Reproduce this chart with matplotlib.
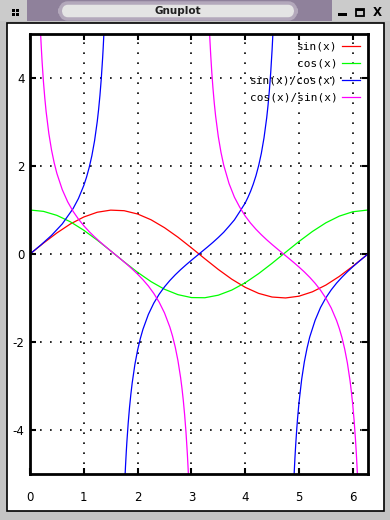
"""Gnuplot x11 window: sin, cos, tan and cot over [0, 2*pi]."""
import numpy as np
import matplotlib
matplotlib.use("Agg")
import matplotlib.pyplot as plt
from matplotlib.patches import Rectangle, FancyBboxPatch

plt.rcParams["axes.unicode_minus"] = False

# ---- data -------------------------------------------------------------
x_trig = [0.0, 0.25, 0.5, 0.75, 1.0, 1.25, 1.5, 1.75, 2.0, 2.25, 2.5, 2.75,
          3.0, 3.25, 3.5, 3.75, 4.0, 4.25, 4.5, 4.75, 5.0, 5.25, 5.5, 5.75,
          6.0, 6.283]
sin_vals = [0.0, 0.247, 0.479, 0.682, 0.841, 0.949, 0.997, 0.984, 0.909,
            0.778, 0.598, 0.382, 0.141, -0.108, -0.351, -0.572, -0.757,
            -0.895, -0.978, -0.999, -0.959, -0.859, -0.706, -0.509, -0.279,
            0.0]
cos_vals = [1.0, 0.969, 0.878, 0.732, 0.540, 0.315, 0.071, -0.178, -0.416,
            -0.628, -0.801, -0.924, -0.990, -0.994, -0.936, -0.820, -0.654,
            -0.446, -0.211, 0.038, 0.284, 0.512, 0.709, 0.861, 0.960, 1.0]

# sin(x)/cos(x): three branches, NaN breaks the line at the poles
tan_x = [0.0, 0.2, 0.4, 0.6, 0.8, 0.9, 1.0, 1.05, 1.1, 1.15, 1.2, 1.25,
         1.275, 1.3, 1.325, 1.35, 1.36, 1.375,
         np.nan,
         1.76, 1.775, 1.79, 1.80, 1.825, 1.85, 1.875, 1.9, 1.95, 2.0, 2.05,
         2.1, 2.2, 2.3, 2.4, 2.5, 2.6, 2.7, 2.8, 2.9, 3.0, 3.1, 3.2, 3.3,
         3.4, 3.5, 3.6, 3.7, 3.8, 3.9, 4.0, 4.05, 4.1, 4.15, 4.2, 4.25, 4.3,
         4.35, 4.4, 4.425, 4.45, 4.475, 4.5, 4.515, 4.53,
         np.nan,
         4.9, 4.91, 4.925, 4.94, 4.96, 4.975, 5.0, 5.05, 5.1, 5.15, 5.2, 5.3,
         5.4, 5.5, 5.6, 5.7, 5.8, 5.9, 6.0, 6.1, 6.2, 6.283]
tan_vals = [0.0, 0.203, 0.423, 0.684, 1.030, 1.260, 1.557, 1.743, 1.965,
            2.234, 2.572, 3.010, 3.282, 3.602, 3.985, 4.455, 4.673, 5.043,
            np.nan,
            -5.222, -4.829, -4.488, -4.286, -3.849, -3.488, -3.186, -2.927,
            -2.509, -2.185, -1.925, -1.710, -1.374, -1.119, -0.916, -0.747,
            -0.602, -0.473, -0.356, -0.247, -0.143, -0.042, 0.059, 0.160,
            0.264, 0.375, 0.493, 0.632, 0.776, 0.965, 1.158, 1.284, 1.424,
            1.588, 1.778, 2.007, 2.286, 2.641, 3.096, 3.383, 3.723, 4.132,
            4.637, 5.0, 5.42,
            np.nan,
            -5.268, -4.995, -4.632, -4.318, -3.956, -3.720, -3.381, -2.848,
            -2.449, -2.139, -1.886, -1.507, -1.216, -0.995, -0.814, -0.660,
            -0.526, -0.403, -0.291, -0.185, -0.083, 0.0]

# cos(x)/sin(x): two branches
cot_x = [0.19, 0.2, 0.21, 0.225, 0.25, 0.275, 0.3, 0.35, 0.4, 0.45, 0.5, 0.6,
         0.7, 0.8, 0.9, 1.0, 1.1, 1.2, 1.3, 1.4, 1.5, 1.6, 1.7, 1.8, 1.9,
         2.0, 2.1, 2.2, 2.3, 2.4, 2.5, 2.6, 2.65, 2.7, 2.75, 2.8, 2.825,
         2.85, 2.875, 2.9, 2.925, 2.94, 2.955,
         np.nan,
         3.33, 3.345, 3.36, 3.38, 3.4, 3.425, 3.45, 3.5, 3.55, 3.6, 3.7, 3.8,
         3.9, 4.0, 4.1, 4.2, 4.3, 4.4, 4.5, 4.6, 4.7, 4.8, 4.9, 5.0, 5.1,
         5.2, 5.3, 5.4, 5.5, 5.6, 5.7, 5.75, 5.8, 5.85, 5.9, 5.95, 5.975,
         6.0, 6.025, 6.05, 6.065, 6.08, 6.095]
cot_vals = [5.200, 4.933, 4.692, 4.369, 3.916, 3.545, 3.233, 2.740, 2.365,
            2.070, 1.830, 1.462, 1.187, 0.971, 0.794, 0.642, 0.509, 0.389,
            0.278, 0.174, 0.071, -0.029, -0.130, -0.233, -0.342, -0.458,
            -0.585, -0.727, -0.894, -1.092, -1.339, -1.662, -1.868, -2.117,
            -2.422, -2.813, -3.053, -3.331, -3.662, -4.058, -4.544, -4.893,
            -5.297,
            np.nan,
            5.245, 4.848, 4.507, 4.115, 3.784, 3.434, 3.139, 2.670, 2.311,
            2.023, 1.601, 1.291, 1.060, 0.864, 0.702, 0.5625, 0.438, 0.323,
            0.216, 0.113, 0.012, -0.088, -0.190, -0.296, -0.408, -0.530,
            -0.666, -0.822, -1.005, -1.229, -1.516, -1.694, -1.903, -2.162,
            -2.479, -2.889, -3.141, -3.436, -3.786, -4.211, -4.510, -4.854,
            -5.250]

x_ticks = [0, 1, 2, 3, 4, 5, 6]
y_ticks = [-4, -2, 0, 2, 4]

SERIES = [(x_trig, sin_vals, "sin(x)", "#ff0000"),
          (x_trig, cos_vals, "cos(x)", "#00ff00"),
          (tan_x, tan_vals, "sin(x)/cos(x)", "#0000ff"),
          (cot_x, cot_vals, "cos(x)/sin(x)", "#ff00ff")]

W, H = 390, 520
fig = plt.figure(figsize=(W / 100, H / 100), dpi=100)
fig.patch.set_facecolor("#c4c4c4")


def box(x0, y0, x1, y1, **kw):
    """rectangle in window pixel coords (y down)"""
    kw.setdefault("zorder", -5)
    r = Rectangle((x0 / W, 1 - y1 / H), (x1 - x0) / W, (y1 - y0) / H,
                  transform=fig.transFigure, **kw)
    fig.patches.append(r)
    return r


# ---- window chrome ------------------------------------------------------
box(0, 0, W, 21, facecolor="#cbcbcb", edgecolor="none")
box(27, 0, 332, 21, facecolor="#8f819b", edgecolor="none")
pill = FancyBboxPatch((60 / W, 1 - 19 / H), (296 - 60) / W, 16 / H,
                      boxstyle="round,pad=0,rounding_size=0.02",
                      transform=fig.transFigure, facecolor="#e4e4e4",
                      edgecolor="#b3a8bb", lw=2.5, zorder=-4)
fig.patches.append(pill)
fig.text(178 / W, 1 - 11 / H, "Gnuplot", ha="center", va="center",
         fontsize=7.5, fontweight="bold", color="#202020", zorder=-3)
# left menu icon
for dx in (12, 16):
    for dy in (9, 13):
        box(dx, dy, dx + 3, dy + 3, facecolor="black", edgecolor="none",
            zorder=-3)
# minimise / maximise / close
box(338, 13, 347, 16, facecolor="black", edgecolor="none", zorder=-3)
box(356, 9, 364, 16, facecolor="none", edgecolor="black", lw=1.3, zorder=-3)
box(356, 9, 364, 11, facecolor="black", edgecolor="none", zorder=-3)
fig.text(377 / W, 1 - 12.5 / H, "X", ha="center", va="center",
         fontsize=8.5, fontweight="bold", color="black", zorder=-3)
# white drawing canvas
box(7, 23, 384, 511, facecolor="white", edgecolor="black", lw=1.2)

# ---- plot ---------------------------------------------------------------
ax = fig.add_axes([30 / W, 1 - 474 / H, (368 - 30) / W, (474 - 34) / H])
ax.set_facecolor("white")
for xs, ys, lab, col in SERIES:
    ax.plot(xs, ys, color=col, lw=0.9, label=lab)

ax.set_xlim(0, 6.283)
ax.set_ylim(-5, 5)
ax.set_xticks(x_ticks)
ax.set_yticks(y_ticks)
ax.grid(True, color="black", lw=1.2, linestyle=(0, (1, 5)))
ax.tick_params(direction="in", length=4, width=1.5, top=True, right=True,
               labelsize=8.5, colors="black")
ax.tick_params(axis="x", pad=12)
ax.tick_params(axis="y", pad=4)
for sp in ax.spines.values():
    sp.set_linewidth(2.0)

ax.legend(loc="upper right", markerfirst=False, frameon=False,
          prop={"family": "DejaVu Sans Mono", "size": 8},
          handlelength=1.6, handletextpad=0.45, labelspacing=0.62,
          borderaxespad=0.3, borderpad=0.4)

fig.savefig("out.png", dpi=100)
